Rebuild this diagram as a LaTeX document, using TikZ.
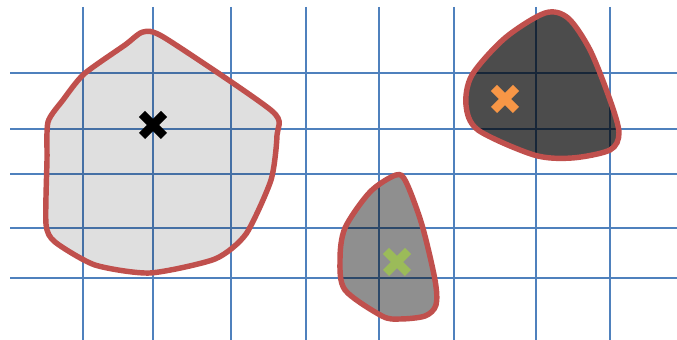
\documentclass[tikz,border=0pt]{standalone}
\usepackage{xcolor}
\definecolor{gridblue}{HTML}{4F81BD}
\definecolor{edgered}{HTML}{C0504D}
\definecolor{markorange}{HTML}{F79646}
\definecolor{markgreen}{HTML}{9BBB59}
\begin{document}
\begin{tikzpicture}[x=0.02cm, y=-0.02cm,
		gridline/.style={gridblue, line width=1.1pt},
		blob/.style={draw=edgered, line width=3.1pt, fill=black},
		cross/.style={line width=5pt}]
	\useasboundingbox (0,0) rectangle (677,340);
	
		% grid
		\foreach \x in {83,153,231,306,379,454,536,610} {
			\draw[gridline] (\x,7) -- (\x,340);
		}
		\foreach \y in {73,129,174,228,278} {
			\draw[gridline] (10,\y) -- (677,\y);
		}
		
		% clusters
		\draw[blob, fill opacity=0.125] plot[smooth cycle, tension=0.4] coordinates {
			(143,32) (165,38) (272,111) (277,135) (271,180) (246,234) (215,259)
			(150,273) (95,265) (55,242) (46,224) (47,160) (48,122) (63,100) (84,74) (125,45)};
		\draw[blob, fill opacity=0.7] plot[smooth cycle, tension=0.5] coordinates {
			(545,13) (568,18) (590,50) (610,100) (619,133) (610,150) (572,158)
			(534,155) (478,130) (466,105) (472,75) (505,38)};
		\draw[blob, fill opacity=0.44] plot[smooth cycle, tension=0.5] coordinates {
			(396,175) (406,182) (422,225) (435,280) (436,305) (425,316) (400,319)
			(382,316) (345,290) (340,260) (345,228) (370,192)};
		
		% centres
		\foreach \cx/\cy/\col in {153/125/black, 505/99/markorange, 397/262/markgreen} {
			\coordinate (c) at (\cx,\cy);
			\draw[cross, \col] ([shift={(-11,-11)}]c) -- ([shift={(11,11)}]c);
			\draw[cross, \col] ([shift={(-11,11)}]c) -- ([shift={(11,-11)}]c);
		}
		
	\end{tikzpicture}
\end{document}
